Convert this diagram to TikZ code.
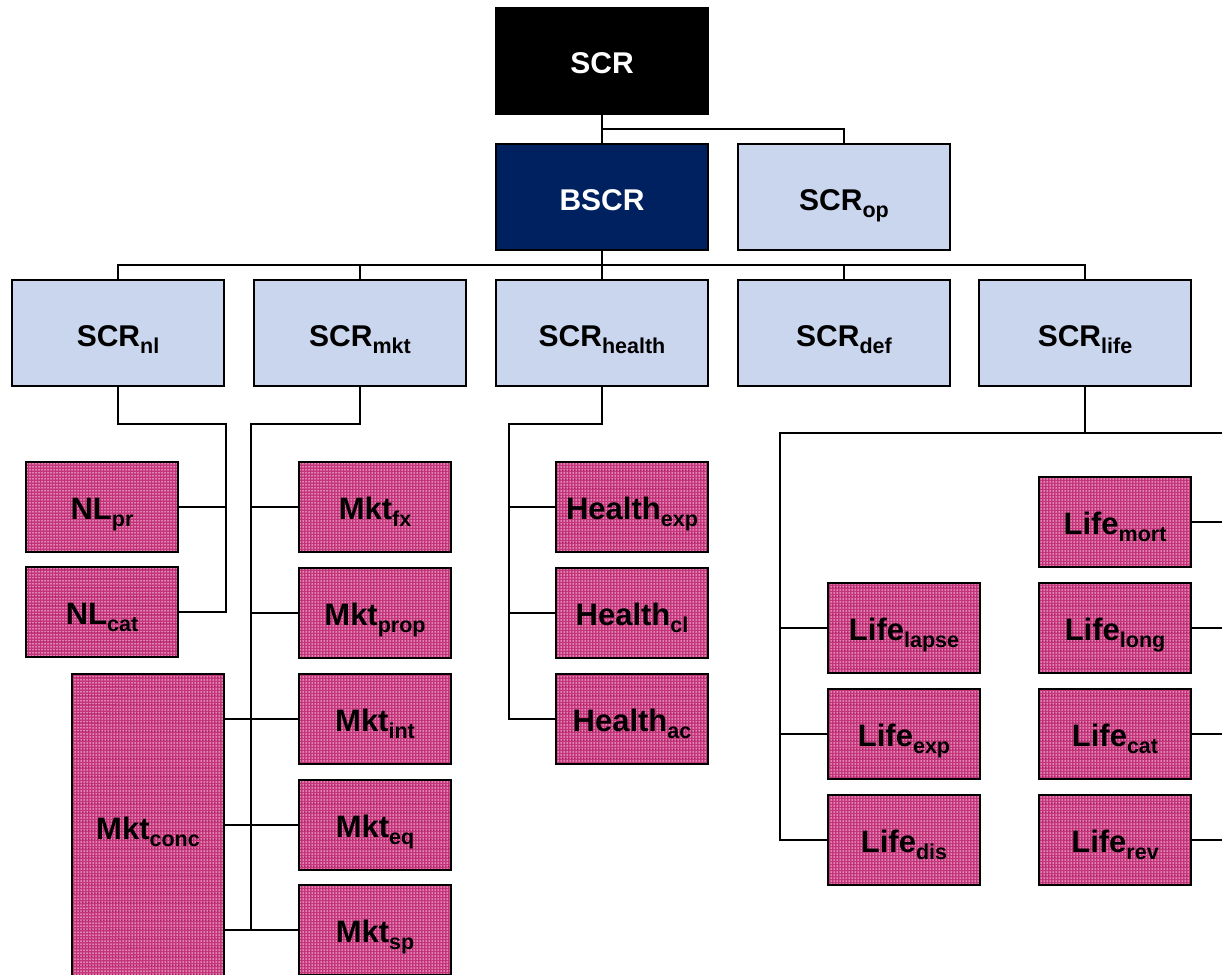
\documentclass[tikz,border=0pt]{standalone}
\usepackage{fontspec}
\setmainfont{Liberation Sans}
\usetikzlibrary{patterns.meta}
\definecolor{navy}{RGB}{0,33,96}
\definecolor{paleblue}{RGB}{202,213,238}
\definecolor{riskpink}{RGB}{196,52,122}
\definecolor{riskdark}{RGB}{176,28,100}
\definecolor{risklight}{RGB}{255,222,238}
% label with a lowered, smaller index
\newcommand{\lbl}[2]{#1\raisebox{-7.5pt}{\fontsize{21.5}{21.5}\selectfont #2}}

\begin{document}
\begin{tikzpicture}[x=1pt,y=-1pt,
  box/.style={draw=black,line width=2pt,inner sep=0pt,outer sep=0pt,text depth=0pt},
  bigbox/.style={box,minimum width=212pt,minimum height=106pt,text height=26pt,
    font=\bfseries\fontsize{30}{30}\selectfont},
  topbox/.style={bigbox,fill=black,text=white},
  basebox/.style={bigbox,fill=navy,text=white},
  modbox/.style={bigbox,fill=paleblue},
  riskfill/.style={box,minimum width=152pt,minimum height=90pt,text height=24pt,
    font=\bfseries\fontsize{31}{31}\selectfont,
    preaction={fill=riskpink}},
  grain/.style={preaction={pattern={Dots[radius=0.75pt,distance=3pt]},pattern color=risklight}},
  riskbox/.style={riskfill,grain},
  striped/.style={riskfill,
    preaction={pattern={Lines[angle=0,distance=9pt,line width=0.8pt]},pattern color=riskdark},
    grain},
  wire/.style={line width=2pt}]

\clip (0,0) rectangle (1222,974);
\fill[white] (0,0) rectangle (1222,974);

% top of the tree
\node[topbox]  (scr)  at (602,61)  {SCR};
\node[basebox] (bscr) at (602,197) {BSCR};
\node[modbox]  (op)   at (844,197) {\lbl{SCR}{op}};

% risk modules
\node[modbox] (nl)     at (118,333)  {\lbl{SCR}{nl}};
\node[modbox] (mkt)    at (360,333)  {\lbl{SCR}{mkt}};
\node[modbox] (health) at (602,333)  {\lbl{SCR}{health}};
\node[modbox] (def)    at (844,333)  {\lbl{SCR}{def}};
\node[modbox] (life)   at (1085,333) {\lbl{SCR}{life}};

% non-life sub-modules
\node[riskbox] (nlpr)  at (102,507) {\lbl{NL}{pr}};
\node[striped] (nlcat) at (102,612) {\lbl{NL}{cat}};

% market sub-modules
\node[riskbox] (mktfx)   at (375,507) {\lbl{Mkt}{fx}};
\node[riskbox] (mktprop) at (375,613) {\lbl{Mkt}{prop}};
\node[riskbox] (mktint)  at (375,719) {\lbl{Mkt}{int}};
\node[striped] (mkteq)   at (375,825) {\lbl{Mkt}{eq}};
\node[riskbox] (mktsp)   at (375,930) {\lbl{Mkt}{sp}};
\node[striped,minimum height=306pt] (mktconc) at (148,827) {\lbl{Mkt}{conc}};

% health sub-modules
\node[striped] (hexp) at (632,507) {\lbl{Health}{exp}};
\node[riskbox] (hcl)  at (632,613) {\lbl{Health}{cl}};
\node[striped] (hac)  at (632,719) {\lbl{Health}{ac}};

% life sub-modules
\node[striped] (llapse) at (904,628)  {\lbl{Life}{lapse}};
\node[striped] (lexp)   at (904,734)  {\lbl{Life}{exp}};
\node[riskbox] (ldis)   at (904,840)  {\lbl{Life}{dis}};
\node[riskbox] (lmort)  at (1115,522) {\lbl{Life}{mort}};
\node[striped] (llong)  at (1115,628) {\lbl{Life}{long}};
\node[striped] (lcat)   at (1115,734) {\lbl{Life}{cat}};
\node[striped] (lrev)   at (1115,840) {\lbl{Life}{rev}};

% bus points
\coordinate (opbus)   at (602,129);
\coordinate (modbus)  at (602,265);
\coordinate (nlbus)   at (226,424);
\coordinate (mktbus)  at (251,424);
\coordinate (hbus)    at (509,424);
\coordinate (lifebus) at (780,433);
\coordinate (rim)     at (1222,433);

% connectors
\draw[wire] (scr.south) -- (bscr.north);
\draw[wire] (opbus) -| (op.north);

\draw[wire] (bscr.south) -- (modbus);
\draw[wire] (nl.north) -- (nl.north |- modbus) -| (life.north);
\draw[wire] (mkt.north) -- (mkt.north |- modbus);
\draw[wire] (health.north) -- (health.north |- modbus);
\draw[wire] (def.north) -- (def.north |- modbus);

\draw[wire] (nl.south) |- (nlbus) |- (nlcat.east);
\draw[wire] (nlpr.east) -- (nlpr.east -| nlbus);

\draw[wire] (mkt.south) |- (mktbus) |- (mktsp.west);
\draw[wire] (mktfx.west) -- (mktfx.west -| mktbus);
\draw[wire] (mktprop.west) -- (mktprop.west -| mktbus);
\draw[wire] (mktconc.east |- mktint.west) -- (mktint.west);
\draw[wire] (mktconc.east |- mkteq.west) -- (mkteq.west);
\draw[wire] (mktconc.east |- mktsp.west) -- (mktbus |- mktsp.west);

\draw[wire] (health.south) |- (hbus) |- (hac.west);
\draw[wire] (hexp.west) -- (hexp.west -| hbus);
\draw[wire] (hcl.west) -- (hcl.west -| hbus);

\draw[wire] (life.south) -- (life.south |- lifebus);
\draw[wire] (rim) -- (lifebus) |- (ldis.west);
\draw[wire] (llapse.west) -- (llapse.west -| lifebus);
\draw[wire] (lexp.west) -- (lexp.west -| lifebus);
\draw[wire] (lmort.east) -- (lmort.east -| rim);
\draw[wire] (llong.east) -- (llong.east -| rim);
\draw[wire] (lcat.east) -- (lcat.east -| rim);
\draw[wire] (lrev.east) -- (lrev.east -| rim);
\end{tikzpicture}
\end{document}
